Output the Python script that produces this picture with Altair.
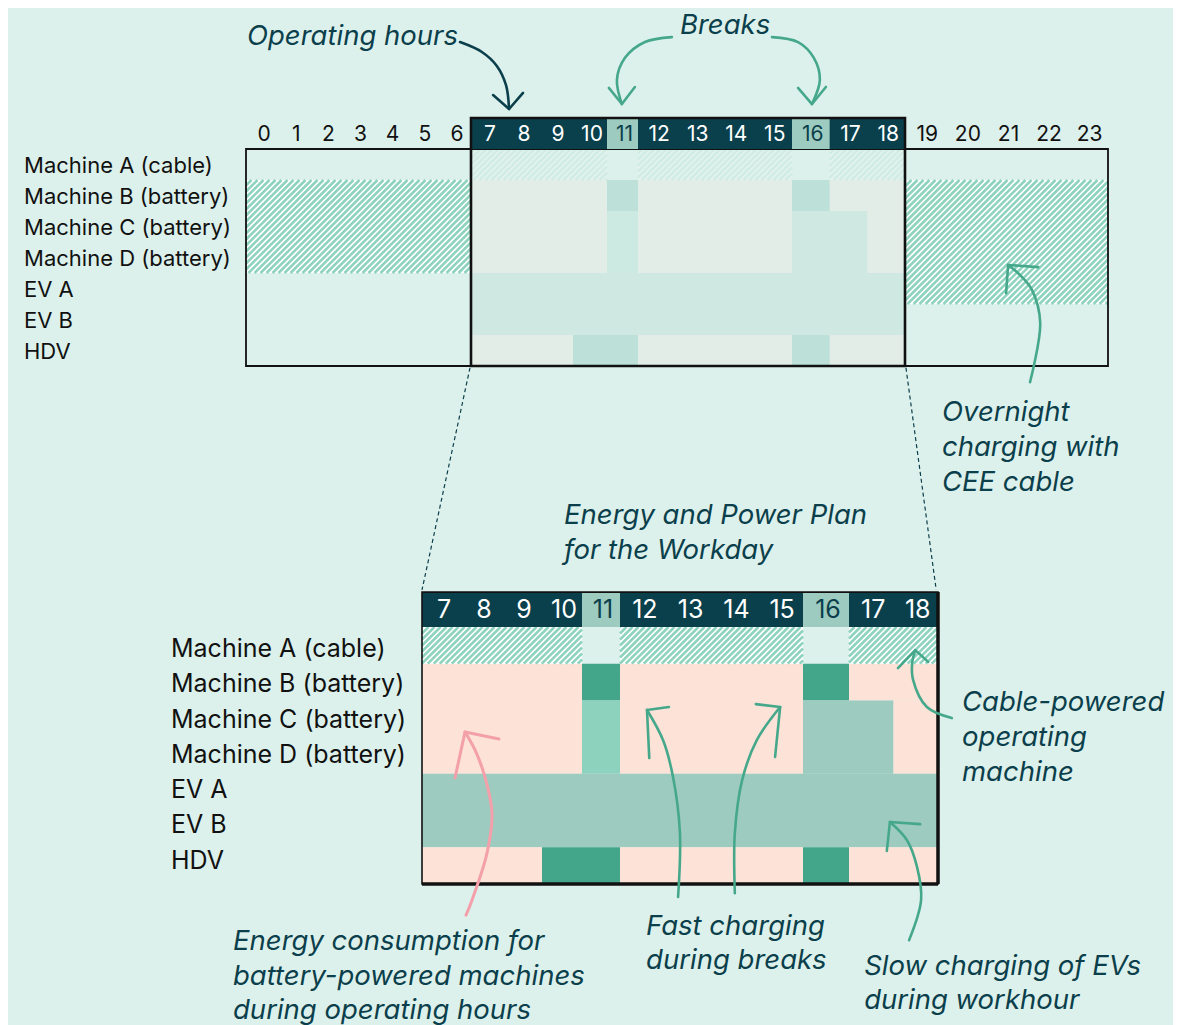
import altair as alt
import numpy as np
import pandas as pd

# ---------------- data ----------------
ROWS = ["Machine A (cable)", "Machine B (battery)", "Machine C (battery)",
        "Machine D (battery)", "EV A", "EV B", "HDV"]
ALL_HOURS = list(range(24))
DAY_HOURS = list(range(7, 19))
MORNING_HOURS = list(range(0, 7))
EVENING_HOURS = list(range(19, 24))
BREAK_HOURS = [11, 16]

# states per hour 7..18
MACHINE_A = ["cable", "cable", "cable", "cable", "off", "cable", "cable", "cable", "cable", "off", "cable", "cable"]
MACHINE_B = ["use", "use", "use", "use", "fast", "use", "use", "use", "use", "fast", "use", "use"]
MACHINE_C = ["use", "use", "use", "use", "boost", "use", "use", "use", "use", "slow", "slow", "use"]
MACHINE_D = ["use", "use", "use", "use", "boost", "use", "use", "use", "use", "slow", "slow", "use"]
EV_A = ["slow", "slow", "slow", "slow", "slow", "slow", "slow", "slow", "slow", "slow", "slow", "slow"]
EV_B = ["slow", "slow", "slow", "slow", "slow", "slow", "slow", "slow", "slow", "slow", "slow", "slow"]
HDV = ["use", "use", "use", "fast", "fast", "use", "use", "use", "use", "fast", "use", "use"]
DAY_PLAN = [MACHINE_A, MACHINE_B, MACHINE_C, MACHINE_D, EV_A, EV_B, HDV]

# overnight cable charging per row
MORNING_STATE = ["off", "cable", "cable", "cable", "off", "off", "off"]    # hours 0-6
EVENING_STATE = ["off", "cable", "cable", "cable", "cable", "off", "off"]  # hours 19-23

# ---------------- style ----------------
BG = "#ddf1ec"
DARK = "#0b3f4b"
HEADER_DARK = "#0a404c"
HEADER_LIGHT = "#9dcbbf"
GREEN = "#46a88b"
PINK = "#f4a0aa"
INK = "#111111"
HATCH_GREEN = "#8dd3bd"
HATCH_WHITE = "#ffffff"
HATCH_PERIOD = 6.0
STATE_COLORS = {"use": "#fce2d7", "fast": "#43a68a", "boost": "#8dd2bd", "slow": "#9dcbbf"}
FONT = "Inter"

PAGE = 8


def px(v):
    return [p - PAGE for p in v]


TOP_XD = [0, 7, 11, 12, 16, 19, 24]
TOP_XR = px([246, 471, 607, 638, 792, 905, 1108])
TOP_YD = [0, 7]
TOP_YR = px([149, 366])
BOT_XD = [7, 11, 12, 16, 17, 19]
BOT_XR = px([422, 582, 620, 803, 849, 938])
BOT_YD = [0, 7]
BOT_YR = px([627, 884])

TX = alt.Scale(domain=TOP_XD, range=TOP_XR, nice=False, zero=False)
TY = alt.Scale(domain=TOP_YD, range=TOP_YR, nice=False, zero=False)
BX = alt.Scale(domain=BOT_XD, range=BOT_XR, nice=False, zero=False)
BY = alt.Scale(domain=BOT_YD, range=BOT_YR, nice=False, zero=False)


def merge_rects(plan, hours):
    rects, open_ = [], {}
    for r, states in enumerate(plan):
        spans = []
        start, cur = hours[0], states[0]
        for h, s in zip(hours[1:], states[1:]):
            if s != cur:
                spans.append((cur, start, h))
                start, cur = h, s
        spans.append((cur, start, hours[-1] + 1))
        new_open = {}
        for sp in spans:
            if sp in open_:
                rect = open_[sp]
                rect["r1"] = r + 1
            else:
                rect = {"state": sp[0], "h0": sp[1], "h1": sp[2], "r0": r, "r1": r + 1}
                rects.append(rect)
            new_open[sp] = rect
        open_ = new_open
    return rects


def rect_enc(chart, sx, sy):
    return chart.encode(
        x=alt.X("h0:Q", scale=sx, axis=None), x2=alt.X2("h1"),
        y=alt.Y("r0:Q", scale=sy, axis=None), y2=alt.Y2("r1"))


def solid_layer(rects, sx, sy, opacity=1.0):
    df = pd.DataFrame([dict(r, color=STATE_COLORS[r["state"]]) for r in rects if r["state"] in STATE_COLORS])
    return rect_enc(alt.Chart(df).mark_rect(opacity=opacity), sx, sy).encode(
        fill=alt.Fill("color:N", scale=None))


def stripe_segments(rects, xd, xr, yd, yr):
    """Diagonal '/' stripes inside each cable-powered block, in the block's data units."""
    segs = []
    for r in rects:
        if r["state"] != "cable":
            continue
        X0, X1 = float(np.interp(r["h0"], xd, xr)), float(np.interp(r["h1"], xd, xr))
        Y0, Y1 = float(np.interp(r["r0"], yd, yr)), float(np.interp(r["r1"], yd, yr))
        k = int(np.floor((X0 + Y0) / HATCH_PERIOD)) - 1
        while k * HATCH_PERIOD <= X1 + Y1 + HATCH_PERIOD:
            c = k * HATCH_PERIOD + HATCH_PERIOD / 4
            xa, xb = max(X0, c - Y1), min(X1, c - Y0)
            if xb - xa > 0.3:
                segs.append({
                    "x": float(np.interp(xa, xr, xd)), "y": float(np.interp(c - xa, yr, yd)),
                    "x2": float(np.interp(xb, xr, xd)), "y2": float(np.interp(c - xb, yr, yd))})
            k += 1
    return pd.DataFrame(segs)


def hatch_layers(rects, xd, xr, yd, yr, sx, sy, opacity=1.0):
    cable = pd.DataFrame([r for r in rects if r["state"] == "cable"])
    base = rect_enc(alt.Chart(cable).mark_rect(fill=HATCH_WHITE, opacity=opacity), sx, sy)
    lines = alt.Chart(stripe_segments(rects, xd, xr, yd, yr)).mark_rule(
        color=HATCH_GREEN, strokeWidth=2.5, opacity=opacity).encode(
        x=alt.X("x:Q", scale=sx, axis=None), x2=alt.X2("x2"),
        y=alt.Y("y:Q", scale=sy, axis=None), y2=alt.Y2("y2"))
    return [base, lines]


def box(h0, h1, r0, r1, sx, sy, **mark):
    df = pd.DataFrame({"h0": [h0], "h1": [h1], "r0": [r0], "r1": [r1]})
    return rect_enc(alt.Chart(df).mark_rect(**mark), sx, sy)


def text_layer(df, sx, sy, **mark):
    enc = dict(x=alt.X("x:Q", scale=sx, axis=None), y=alt.Y("y:Q", scale=sy, axis=None), text=alt.Text("t:N"))
    if "c" in df.columns:
        enc["color"] = alt.Color("c:N", scale=None)
    return alt.Chart(df).mark_text(**mark).encode(**enc)


day_rects = merge_rects(DAY_PLAN, DAY_HOURS)
night_rects = (merge_rects([[s] * len(MORNING_HOURS) for s in MORNING_STATE], MORNING_HOURS)
               + merge_rects([[s] * len(EVENING_HOURS) for s in EVENING_STATE], EVENING_HOURS))

layers = []

# ---------- top overview ----------
layers.append(solid_layer(day_rects, TX, TY, opacity=0.2))
layers += hatch_layers(day_rects, TOP_XD, TOP_XR, TOP_YD, TOP_YR, TX, TY, opacity=0.2)
layers += hatch_layers(night_rects, TOP_XD, TOP_XR, TOP_YD, TOP_YR, TX, TY)
layers.append(box(0, 24, 0, 7, TX, TY, fillOpacity=0, stroke=INK, strokeWidth=1.8))
layers.append(box(7, 19, -1, 0, TX, TY, fill=HEADER_DARK))
for b in BREAK_HOURS:
    layers.append(box(b, b + 1, -1, 0, TX, TY, fill=HEADER_LIGHT))
layers.append(box(7, 19, -1, 7, TX, TY, fillOpacity=0, stroke=INK, strokeWidth=2.6))

top_hours = pd.DataFrame({
    "x": [h + 0.5 for h in ALL_HOURS], "y": [-0.45] * 24, "t": [str(h) for h in ALL_HOURS],
    "c": [DARK if h in BREAK_HOURS else ("#ffffff" if h in DAY_HOURS else INK) for h in ALL_HOURS]})
layers.append(text_layer(top_hours, TX, TY, font=FONT, fontSize=21, align="center", baseline="middle", dx=2))
top_rows = pd.DataFrame({"x": [-6.906] * 7, "y": [i + 0.55 for i in range(7)], "t": ROWS})
layers.append(text_layer(top_rows, TX, TY, font=FONT, fontSize=22, align="left", baseline="middle", color=INK))

# ---------- bottom detail ----------
layers.append(solid_layer(day_rects, BX, BY))
layers += hatch_layers(day_rects, BOT_XD, BOT_XR, BOT_YD, BOT_YR, BX, BY)
layers.append(box(7, 19, -0.95, 0, BX, BY, fill=HEADER_DARK))
for b in BREAK_HOURS:
    layers.append(box(b, b + 1, -0.95, 0, BX, BY, fill=HEADER_LIGHT))
layers.append(box(7, 19, -0.95, 7, BX, BY, fillOpacity=0, stroke=INK, strokeWidth=1.6))
thick = pd.DataFrame({"x": [19, 7], "x2": [19, 19], "y": [-0.95, 7], "y2": [7, 7]})
layers.append(alt.Chart(thick).mark_rule(color=INK, strokeWidth=3.5).encode(
    x=alt.X("x:Q", scale=BX, axis=None), x2=alt.X2("x2"),
    y=alt.Y("y:Q", scale=BY, axis=None), y2=alt.Y2("y2")))

bot_hours = pd.DataFrame({
    "x": [h + 0.5 for h in DAY_HOURS], "y": [-0.45] * 12, "t": [str(h) for h in DAY_HOURS],
    "c": [DARK if h in BREAK_HOURS else "#ffffff" for h in DAY_HOURS]})
layers.append(text_layer(bot_hours, BX, BY, font=FONT, fontSize=25, align="center", baseline="middle", dx=2))
bot_rows = pd.DataFrame({"x": [0.725] * 7, "y": [0.6 + 0.96 * i for i in range(7)], "t": ROWS})
layers.append(text_layer(bot_rows, BX, BY, font=FONT, fontSize=25, align="left", baseline="middle", color=INK))

# ---------- zoom connector ----------
conn = pd.DataFrame({"x": [8.2, 18.28], "y": [-7.06, -7.06], "x2": [7.0, 18.96], "y2": [-1.01, -1.01]})
layers.append(alt.Chart(conn).mark_rule(color=DARK, strokeWidth=1.2, strokeDash=[4, 3]).encode(
    x=alt.X("x:Q", scale=BX, axis=None), x2=alt.X2("x2"),
    y=alt.Y("y:Q", scale=BY, axis=None), y2=alt.Y2("y2")))

# ---------- annotations ----------
ARROWS_TOP = {
    "operating": (DARK, [(6.66, -3.45), (7.32, -3.13), (7.76, -2.68), (8.03, -2.06), (8.12, -1.29)],
                  [(7.65, -1.74), (8.12, -1.29), (8.53, -1.81)]),
    "break11": (GREEN, [(12.88, -3.61), (12.18, -3.45), (11.58, -2.94), (11.32, -2.23), (11.48, -1.45)],
                [(11.06, -1.97), (11.48, -1.45), (11.9, -2.0)]),
    "break16": (GREEN, [(15.48, -3.61), (16.16, -3.45), (16.58, -2.94), (16.74, -2.23), (16.53, -1.45)],
                [(16.16, -1.97), (16.53, -1.45), (16.9, -2.0)]),
    "overnight": (GREEN, [(22.08, 7.52), (22.33, 5.61), (22.13, 4.55), (21.83, 4.06), (21.54, 3.74)],
                  [(21.49, 4.65), (21.54, 3.74), (22.28, 3.81)]),
}
ARROWS_BOT = {
    "cable": (GREEN, [(19.31, 2.48), (18.75, 2.18), (18.44, 1.44), (18.42, 0.98), (18.49, 0.63)],
              [(18.1, 1.12), (18.49, 0.63), (18.78, 0.95)]),
    "consumption": (PINK, [(8.1, 7.85), (8.25, 7.44), (8.625, 6.16), (8.75, 5.07), (8.575, 4.09),
                           (8.325, 3.35), (8.075, 2.86)],
                    [(7.825, 4.11), (8.075, 2.86), (8.925, 3.05)]),
    "fast1": (GREEN, [(13.27, 7.35), (13.31, 5.61), (13.16, 4.09), (12.94, 3.08), (12.59, 2.26)],
              [(12.64, 3.57), (12.59, 2.26), (13.07, 2.18)]),
    "fast2": (GREEN, [(14.51, 7.25), (14.51, 5.61), (14.67, 4.17), (14.99, 3.08), (15.5, 2.18)],
              [(14.97, 2.10), (15.5, 2.18), (15.39, 3.54)]),
    "slow": (GREEN, [(18.35, 8.53), (18.62, 7.44), (18.53, 6.54), (18.3, 5.80), (17.92, 5.31)],
             [(17.85, 6.10), (17.92, 5.31), (18.6, 5.37)]),
}


def arrow_layers(arrows, sx, sy):
    curves, heads = [], []
    for name, (col, curve, head) in arrows.items():
        w = 3.0 if col == PINK else 2.6
        for i, (x, y) in enumerate(curve):
            curves.append({"id": name, "i": i, "x": x, "y": y, "c": col, "w": w})
        for i, (x, y) in enumerate(head):
            heads.append({"id": name, "i": i, "x": x, "y": y, "c": col, "w": w})
    out = []
    for rows, interp in ((curves, "catmull-rom"), (heads, "linear")):
        out.append(alt.Chart(pd.DataFrame(rows)).mark_line(interpolate=interp, strokeCap="round",
                                                           strokeJoin="round").encode(
            x=alt.X("x:Q", scale=sx, axis=None), y=alt.Y("y:Q", scale=sy, axis=None),
            detail="id:N", order=alt.Order("i:Q"),
            color=alt.Color("c:N", scale=None), strokeWidth=alt.StrokeWidth("w:Q", scale=None)))
    return out


layers += arrow_layers(ARROWS_TOP, TX, TY)
layers += arrow_layers(ARROWS_BOT, BX, BY)

NOTES_TOP = pd.DataFrame({
    "t": ["Operating hours", "Breaks", "Overnight", "charging with", "CEE cable"],
    "x": [0.03, 13.09, 19.91, 19.91, 19.91],
    "y": [-3.62, -3.97, 8.5, 9.65, 10.77]})
NOTES_BOT = pd.DataFrame({
    "t": ["Energy and Power Plan", "for the Workday",
          "Cable-powered", "operating", "machine",
          "Energy consumption for", "battery-powered machines", "during operating hours",
          "Fast charging", "during breaks",
          "Slow charging of EVs", "during workhour"],
    "x": [10.55, 10.55, 19.54, 19.54, 19.54, 2.275, 2.275, 2.275, 12.57, 12.57, 17.34, 17.34],
    "y": [-3.02, -2.07, 2.06, 3.03, 3.99, 8.57, 9.52, 10.47, 8.16, 9.09, 9.25, 10.18]})
note_style = dict(font=FONT, fontSize=27.5, fontStyle="italic", align="left", baseline="middle", color=DARK)
layers.append(text_layer(NOTES_TOP, TX, TY, **note_style))
layers.append(text_layer(NOTES_BOT, BX, BY, **note_style))

chart = alt.layer(*layers).resolve_scale(x="independent", y="independent").properties(
    width=1165, height=1030, padding=0,
    autosize=alt.AutoSizeParams(type="none"),
    background=BG,
).configure_view(stroke=None)

chart.save("out.html", embed_options={"renderer": "svg", "actions": False})
